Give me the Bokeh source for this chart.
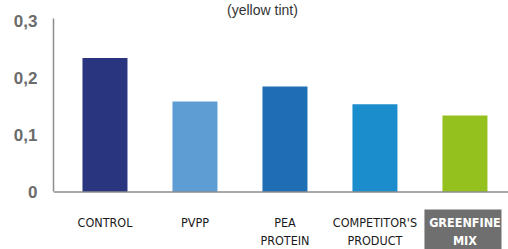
from bokeh.plotting import figure
from bokeh.models import Range1d, FixedTicker, CustomJSTickFormatter, Label, Span, ColumnDataSource
from bokeh.core.properties import value
from bokeh.embed import file_html
from bokeh.resources import INLINE

categories = ["CONTROL", "PVPP", "PEA\nPROTEIN", "COMPETITOR'S\nPRODUCT", "GREENFINE\nMIX"]
values = [0.235, 0.159, 0.185, 0.154, 0.134]
colors = ["#29367f", "#5e9dd3", "#1e6db5", "#1b8dcd", "#95c11f"]
y_ticks = [0, 0.1, 0.2, 0.3]
title_text = "(yellow tint)"
highlight = "GREENFINE\nMIX"

xs = list(range(len(categories)))
axis_top = 0.3044

p = figure(width=508, height=249, output_backend="svg", toolbar_location=None,
           x_range=Range1d(-0.572, 4.484), y_range=Range1d(-0.1009, 0.336),
           min_border_left=53, min_border_right=0, min_border_top=0, min_border_bottom=0)
p.outline_line_color = None
p.xgrid.visible = False
p.ygrid.visible = False
p.xaxis.visible = False

p.vbar(x=xs, top=values, width=0.5, bottom=0, fill_color=colors, line_color=None)

axis_col = "#8c8c8c"
p.yaxis.bounds = (0, axis_top)
p.yaxis.ticker = FixedTicker(ticks=y_ticks)
p.yaxis.formatter = CustomJSTickFormatter(code='return tick == 0 ? "0" : tick.toFixed(1).replace(".", ",");')
p.yaxis.major_tick_in = 0
p.yaxis.major_tick_out = 0
p.yaxis.minor_tick_line_color = None
p.yaxis.axis_line_color = axis_col
p.yaxis.axis_line_width = 1.5
p.yaxis.major_label_standoff = 16
p.yaxis.major_label_text_font = "Liberation Sans"
p.yaxis.major_label_text_font_style = "bold"
p.yaxis.major_label_text_font_size = "17px"
p.yaxis.major_label_text_color = "#6b6b6b"

p.add_layout(Span(location=0, dimension="width", line_color=axis_col, line_width=1.5))

# highlight box behind the last category label
hi = categories.index(highlight)
p.quad(left=[hi - 0.45], right=[hi + 0.406], top=[-0.0307], bottom=[-0.12],
       fill_color="#6f6f6f", line_color=None)

lab_src = ColumnDataSource(dict(
    x=xs, text=categories,
    color=["white" if c == highlight else "#1a1a1a" for c in categories],
    style=["bold" if c == highlight else "normal" for c in categories]))
p.text(x="x", y=-0.0395, text="text", source=lab_src, text_align="center",
       text_baseline="top", text_font=value("DejaVu Sans Condensed, Roboto"),
       text_font_size="12.5px", text_line_height=1.2, text_color="color",
       text_font_style="style")

p.add_layout(Label(x=1.75, y=0.3342, text=title_text, text_align="center",
                   text_baseline="top", text_font="Liberation Sans",
                   text_font_size="14px", text_color="#333333"))

open("out.html", "w").write(file_html(p, INLINE))
